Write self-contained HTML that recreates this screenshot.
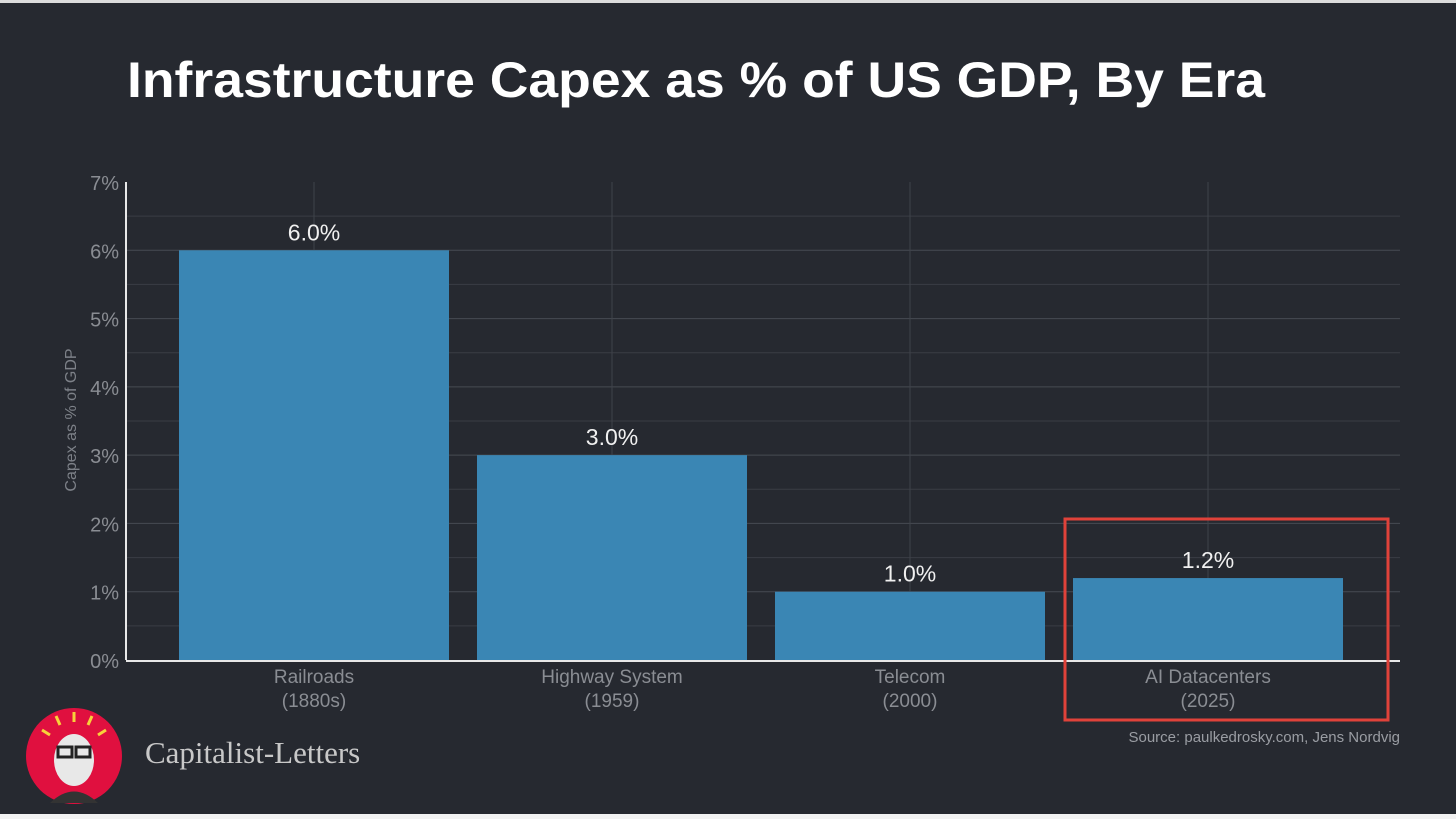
<!DOCTYPE html>
<html><head><meta charset="utf-8"><style>
html,body{margin:0;padding:0;background:#fff;}
svg{display:block;font-family:"Liberation Sans",Arial,sans-serif;}
</style></head><body>
<svg id="chart" width="1456" height="819" viewBox="0 0 1456 819" xmlns="http://www.w3.org/2000/svg">
<rect x="0" y="2" width="1456" height="813" fill="#262930"/>
<rect x="0" y="0" width="1456" height="3" fill="#dcdcdc"/>
<rect x="0" y="814" width="1456" height="5" fill="#f2f2f2"/>
<text x="127" y="97" font-size="50" font-weight="bold" fill="#ffffff" textLength="1138" lengthAdjust="spacingAndGlyphs">Infrastructure Capex as % of US GDP, By Era</text>
<g id="grid"></g>
<g id="bars"></g>
<g id="labels"></g>
<text transform="translate(76,420) rotate(-90)" text-anchor="middle" font-size="16" fill="#7d8188">Capex as % of GDP</text>
<rect x="1065" y="519" width="323" height="201" fill="none" stroke="#e0423a" stroke-width="3"/>
<text x="1400" y="742" text-anchor="end" font-size="15" fill="#9a9da3">Source: paulkedrosky.com, Jens Nordvig</text>
<g>
<ellipse cx="74" cy="756" rx="48" ry="48" fill="#e0103f"/>
<ellipse cx="74" cy="760" rx="20" ry="26" fill="#e8e8e8"/>
<rect x="58" y="747" width="14" height="10" fill="none" stroke="#222" stroke-width="3"/>
<rect x="76" y="747" width="14" height="10" fill="none" stroke="#222" stroke-width="3"/>
<path d="M50 803 Q74 780 98 803" fill="#333"/>
<g stroke="#f7d23a" stroke-width="3"><line x1="74" y1="712" x2="74" y2="722"/><line x1="56" y1="716" x2="60" y2="725"/><line x1="92" y1="716" x2="88" y2="725"/><line x1="42" y1="730" x2="50" y2="735"/><line x1="106" y1="730" x2="98" y2="735"/></g>
</g>
<text x="145" y="763" font-family="'Liberation Serif',serif" font-size="31" fill="#c8c8c8">Capitalist-Letters</text>
</svg>
<script>
var categories = ["Railroads", "Highway System", "Telecom", "AI Datacenters"];
var years = ["(1880s)", "(1959)", "(2000)", "(2025)"];
var values = [6.0, 3.0, 1.0, 1.2];
var valueLabels = ["6.0%", "3.0%", "1.0%", "1.2%"];
var yTicks = [0, 1, 2, 3, 4, 5, 6, 7];
var yTickLabels = ["0%", "1%", "2%", "3%", "4%", "5%", "6%", "7%"];

var NS = "http://www.w3.org/2000/svg";
var plotL = 126, plotR = 1400, plotTop = 182, plotBot = 660, yMax = 7;
function sy(v) { return plotBot - (v / yMax) * (plotBot - plotTop); }
var stepX = 298, firstC = 314, barW = 270;
function sx(i) { return firstC + i * stepX; }
function mk(tag, attrs, parent, text) {
  var e = document.createElementNS(NS, tag);
  for (var k in attrs) e.setAttribute(k, String(attrs[k]));
  if (text !== undefined) e.textContent = text;
  parent.appendChild(e);
  return e;
}
var gridG = document.getElementById('grid');
var barsG = document.getElementById('bars');
var labelsG = document.getElementById('labels');
for (var h = 1; h < yMax * 2; h++) {
  var v = h / 2;
  var gl = mk('line', {x1: plotL, x2: plotR, y1: sy(v), y2: sy(v), stroke: (h % 2 === 0) ? '#474b52' : '#3a3d44', 'stroke-width': 1}, gridG);
  
  
}
for (var i = 0; i < categories.length; i++) {
  var gx = mk('line', {x1: sx(i), x2: sx(i), y1: plotTop, y2: plotBot, stroke: '#3f434a', 'stroke-width': 1}, gridG);
  
  
  var cl = mk('text', {x: sx(i), y: 683, 'text-anchor': 'middle', 'font-size': 19, fill: '#8a8d93'}, labelsG, categories[i]);
  
  
  var yl = mk('text', {x: sx(i), y: 707, 'text-anchor': 'middle', 'font-size': 19, fill: '#8a8d93'}, labelsG, years[i]);
  
  
}
for (var t = 0; t < yTicks.length; t++) {
  var tl = mk('text', {x: 119, y: sy(yTicks[t]) + 8, 'text-anchor': 'end', 'font-size': 20, fill: '#8a8d93'}, labelsG, yTickLabels[t]);
  
  
}
for (var j = 0; j < values.length; j++) {
  var b = mk('rect', {x: sx(j) - barW / 2, y: sy(values[j]), width: barW, height: plotBot - sy(values[j]), fill: '#3a86b4'}, barsG);
  
  
  var vl = mk('text', {x: sx(j), y: sy(values[j]) - 10, 'text-anchor': 'middle', 'font-size': 23, fill: '#f0f0f0'}, labelsG, valueLabels[j]);
  
  
}
var ax = mk('line', {x1: plotL, x2: plotL, y1: plotTop, y2: plotBot, stroke: '#e8e8e8', 'stroke-width': 2}, labelsG);


var bx = mk('line', {x1: plotL, x2: plotR, y1: plotBot + 1, y2: plotBot + 1, stroke: '#e8e8e8', 'stroke-width': 2}, labelsG);


</script>
</body></html>
